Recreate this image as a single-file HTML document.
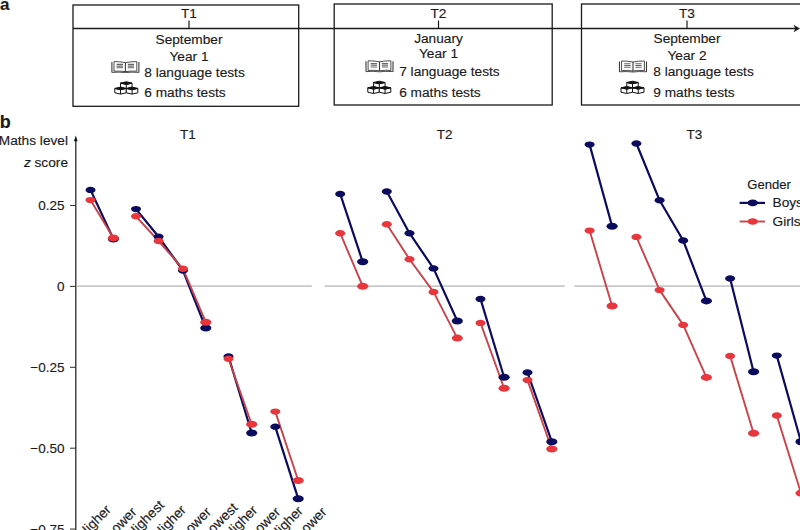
<!DOCTYPE html>
<html><head><meta charset="utf-8"><style>
html,body{margin:0;padding:0;background:#fff;width:800px;height:530px;overflow:hidden}
svg{display:block;font-family:"Liberation Sans",sans-serif}
text{stroke:#1a1a1a;stroke-width:0.15px}
</style></head><body>
<svg width="800" height="530" viewBox="0 0 800 530">
<defs>
<g id="book" fill="none" stroke="#3a3a3a" stroke-width="0.9">
  <path d="M0.5,0.8 V11.4 M27.5,0.8 V11.4" stroke-width="1.1"/>
  <path d="M2.6,0.4 V10.2 M25.4,0.4 V10.2"/>
  <path d="M2.6,0.4 Q8.5,0.3 14,1.4 Q19.5,0.3 25.4,0.4"/>
  <path d="M2.6,10 Q8.5,9.6 14,10.4 Q19.5,9.6 25.4,10"/>
  <path d="M0.5,11.2 Q8,10.6 14,11.4 Q20,10.6 27.5,11.2"/>
  <path d="M14,1.4 V10.8" stroke-width="1.1"/>
  <path d="M5.2,3.2 H11.6 M5.2,4.9 H11.6 M5.2,6.6 H11.6 M16.4,3.2 H22.6 M16.4,4.9 H22.6 M16.4,6.6 H22.6" stroke="#666" stroke-width="1.1"/>
</g>
<g id="blocks" stroke="#111" stroke-width="1" stroke-linejoin="round"><path d="M5.75,1.3 L11.5,2.6 L17.25,1.3 V5.7 L11.5,7.0 L5.75,5.7 Z" fill="#fff"/><path d="M11.5,2.6 V7.0" fill="none"/><path d="M5.75,1.3 L11.5,0 L17.25,1.3 L11.5,2.6 Z" fill="#111"/><path d="M0,6.6 L5.75,7.9 L11.5,6.6 V11.0 L5.75,12.3 L0,11.0 Z" fill="#fff"/><path d="M5.75,7.9 V12.3" fill="none"/><path d="M0,6.6 L5.75,5.3 L11.5,6.6 L5.75,7.9 Z" fill="#111"/><path d="M11.5,6.6 L17.25,7.9 L23.0,6.6 V11.0 L17.25,12.3 L11.5,11.0 Z" fill="#fff"/><path d="M17.25,7.9 V12.3" fill="none"/><path d="M11.5,6.6 L17.25,5.3 L23.0,6.6 L17.25,7.9 Z" fill="#111"/></g>
</defs>
<text x="0" y="9.6" font-size="17" font-weight="bold" fill="#1a1a1a">a</text>
<rect x="73" y="5" width="225.7" height="101.3" fill="none" stroke="#1a1a1a" stroke-width="1.3"/>
<rect x="334.2" y="4" width="218.00000000000006" height="101" fill="none" stroke="#1a1a1a" stroke-width="1.3"/>
<rect x="581.5" y="4" width="230.5" height="101" fill="none" stroke="#1a1a1a" stroke-width="1.3"/>
<line x1="73" y1="28.5" x2="796" y2="28.5" stroke="#1a1a1a" stroke-width="1.3"/>
<path d="M800,28.5 L793.5,24.8 L795.3,28.5 L793.5,32.2 Z" fill="#1a1a1a"/>
<line x1="189" y1="20.5" x2="189" y2="28.5" stroke="#1a1a1a" stroke-width="1.2"/>
<text x="189" y="17.5" font-size="13.7" text-anchor="middle" fill="#1a1a1a">T1</text>
<text x="189" y="44.2" font-size="13.7" text-anchor="middle" fill="#1a1a1a">September</text>
<text x="189" y="60.5" font-size="13.7" text-anchor="middle" fill="#1a1a1a">Year 1</text>
<text x="144.3" y="76.5" font-size="13.7" fill="#1a1a1a">8 language tests</text>
<text x="144.3" y="97.0" font-size="13.7" fill="#1a1a1a">6 maths tests</text>
<use href="#book" x="111.4" y="61.2"/>
<use href="#blocks" x="114.8" y="81.8"/>
<line x1="438.5" y1="20.5" x2="438.5" y2="28.5" stroke="#1a1a1a" stroke-width="1.2"/>
<text x="438.5" y="17.5" font-size="13.7" text-anchor="middle" fill="#1a1a1a">T2</text>
<text x="438.5" y="42.7" font-size="13.7" text-anchor="middle" fill="#1a1a1a">January</text>
<text x="438.5" y="58.2" font-size="13.7" text-anchor="middle" fill="#1a1a1a">Year 1</text>
<text x="399.2" y="75.5" font-size="13.7" fill="#1a1a1a">7 language tests</text>
<text x="399.2" y="96.9" font-size="13.7" fill="#1a1a1a">6 maths tests</text>
<use href="#book" x="365.5" y="60.4"/>
<use href="#blocks" x="367.8" y="81.2"/>
<line x1="687" y1="20.5" x2="687" y2="28.5" stroke="#1a1a1a" stroke-width="1.2"/>
<text x="687" y="17.5" font-size="13.7" text-anchor="middle" fill="#1a1a1a">T3</text>
<text x="687" y="43.4" font-size="13.7" text-anchor="middle" fill="#1a1a1a">September</text>
<text x="687" y="59.5" font-size="13.7" text-anchor="middle" fill="#1a1a1a">Year 2</text>
<text x="653.3" y="75.5" font-size="13.7" fill="#1a1a1a">8 language tests</text>
<text x="653.3" y="96.8" font-size="13.7" fill="#1a1a1a">9 maths tests</text>
<use href="#book" x="619" y="60.6"/>
<use href="#blocks" x="621" y="81.2"/>
<text x="-0.3" y="128.3" font-size="18" font-weight="bold" fill="#1a1a1a">b</text>
<text x="68" y="144.6" font-size="13.7" text-anchor="end" fill="#1a1a1a">Maths level</text>
<text x="68" y="167.1" font-size="13.7" text-anchor="end" fill="#1a1a1a"><tspan font-style="italic">z</tspan> score</text>
<line x1="75.8" y1="139" x2="75.8" y2="530" stroke="#2a2a2a" stroke-width="1.3"/>
<path d="M75.8,135.6 L74.0,141.2 L77.6,141.2 Z" fill="#111"/>
<line x1="70" y1="205.5" x2="76" y2="205.5" stroke="#333" stroke-width="1.05"/>
<text x="64.5" y="210.0" font-size="13.5" text-anchor="end" fill="#1a1a1a">0.25</text>
<line x1="70" y1="286.4" x2="76" y2="286.4" stroke="#333" stroke-width="1.05"/>
<text x="64.5" y="290.9" font-size="13.5" text-anchor="end" fill="#1a1a1a">0</text>
<line x1="70" y1="367.3" x2="76" y2="367.3" stroke="#333" stroke-width="1.05"/>
<text x="64.5" y="371.8" font-size="13.5" text-anchor="end" fill="#1a1a1a">−0.25</text>
<line x1="70" y1="448.2" x2="76" y2="448.2" stroke="#333" stroke-width="1.05"/>
<text x="64.5" y="452.7" font-size="13.5" text-anchor="end" fill="#1a1a1a">−0.50</text>
<line x1="70" y1="529.1" x2="76" y2="529.1" stroke="#333" stroke-width="1.05"/>
<text x="64.5" y="533.6" font-size="13.5" text-anchor="end" fill="#1a1a1a">−0.75</text>
<line x1="76.6" y1="286.1" x2="311.8" y2="286.1" stroke="#c8c8c8" stroke-width="1.6"/>
<line x1="324.5" y1="286.1" x2="564.8" y2="286.1" stroke="#c8c8c8" stroke-width="1.6"/>
<line x1="574.5" y1="286.1" x2="800" y2="286.1" stroke="#c8c8c8" stroke-width="1.6"/>
<text x="188" y="139.3" font-size="13.5" text-anchor="middle" fill="#1a1a1a">T1</text>
<text x="444.7" y="139.3" font-size="13.5" text-anchor="middle" fill="#1a1a1a">T2</text>
<text x="694.4" y="139.3" font-size="13.5" text-anchor="middle" fill="#1a1a1a">T3</text>
<polyline points="90.5,189.9 113.4,239" fill="none" stroke="#0b0b5e" stroke-width="2.2" stroke-linejoin="round"/>
<polyline points="136,209.1 158.6,236.8 183,270.5 205.8,328" fill="none" stroke="#0b0b5e" stroke-width="2.2" stroke-linejoin="round"/>
<polyline points="228.5,356.5 251.7,433" fill="none" stroke="#0b0b5e" stroke-width="2.2" stroke-linejoin="round"/>
<polyline points="275.3,426.8 298.2,498.7" fill="none" stroke="#0b0b5e" stroke-width="2.2" stroke-linejoin="round"/>
<polyline points="90.5,200.1 113.4,238" fill="none" stroke="#c9434b" stroke-width="1.9" stroke-linejoin="round"/>
<polyline points="136,216.3 158.6,241 183,268.8 205.8,322.2" fill="none" stroke="#c9434b" stroke-width="1.9" stroke-linejoin="round"/>
<polyline points="228.5,358.8 251.7,424.2" fill="none" stroke="#c9434b" stroke-width="1.9" stroke-linejoin="round"/>
<polyline points="275.3,411.6 298.2,480.5" fill="none" stroke="#c9434b" stroke-width="1.9" stroke-linejoin="round"/>
<ellipse cx="90.5" cy="189.9" rx="5.0" ry="3.2" fill="#0b0b5e"/>
<ellipse cx="113.4" cy="239" rx="5.6" ry="3.5" fill="#0b0b5e"/>
<ellipse cx="136" cy="209.1" rx="5.0" ry="3.2" fill="#0b0b5e"/>
<ellipse cx="158.6" cy="236.8" rx="5.0" ry="3.2" fill="#0b0b5e"/>
<ellipse cx="183" cy="270.5" rx="5.0" ry="3.2" fill="#0b0b5e"/>
<ellipse cx="205.8" cy="328" rx="5.6" ry="3.5" fill="#0b0b5e"/>
<ellipse cx="228.5" cy="356.5" rx="5.0" ry="3.2" fill="#0b0b5e"/>
<ellipse cx="251.7" cy="433" rx="5.6" ry="3.5" fill="#0b0b5e"/>
<ellipse cx="275.3" cy="426.8" rx="5.0" ry="3.2" fill="#0b0b5e"/>
<ellipse cx="298.2" cy="498.7" rx="5.6" ry="3.5" fill="#0b0b5e"/>
<ellipse cx="90.5" cy="200.1" rx="5.0" ry="3.2" fill="#e8363d"/>
<ellipse cx="113.4" cy="238" rx="5.6" ry="3.5" fill="#e8363d"/>
<ellipse cx="136" cy="216.3" rx="5.0" ry="3.2" fill="#e8363d"/>
<ellipse cx="158.6" cy="241" rx="5.0" ry="3.2" fill="#e8363d"/>
<ellipse cx="183" cy="268.8" rx="5.0" ry="3.2" fill="#e8363d"/>
<ellipse cx="205.8" cy="322.2" rx="5.6" ry="3.5" fill="#e8363d"/>
<ellipse cx="228.5" cy="358.8" rx="5.0" ry="3.2" fill="#e8363d"/>
<ellipse cx="251.7" cy="424.2" rx="5.6" ry="3.5" fill="#e8363d"/>
<ellipse cx="275.3" cy="411.6" rx="5.0" ry="3.2" fill="#e8363d"/>
<ellipse cx="298.2" cy="480.5" rx="5.6" ry="3.5" fill="#e8363d"/>
<polyline points="340.2,193.9 362.7,261.8" fill="none" stroke="#0b0b5e" stroke-width="2.2" stroke-linejoin="round"/>
<polyline points="386.8,191.5 409.5,233.2 433.5,268.4 457.3,321" fill="none" stroke="#0b0b5e" stroke-width="2.2" stroke-linejoin="round"/>
<polyline points="480.5,298.9 504.1,377.3" fill="none" stroke="#0b0b5e" stroke-width="2.2" stroke-linejoin="round"/>
<polyline points="527.5,372.5 551.8,441.7" fill="none" stroke="#0b0b5e" stroke-width="2.2" stroke-linejoin="round"/>
<polyline points="340.2,233.2 362.7,286.2" fill="none" stroke="#c9434b" stroke-width="1.9" stroke-linejoin="round"/>
<polyline points="386.8,224.3 409.5,259.2 433.5,291.9 457.3,338.1" fill="none" stroke="#c9434b" stroke-width="1.9" stroke-linejoin="round"/>
<polyline points="480.5,322.9 504.1,388.3" fill="none" stroke="#c9434b" stroke-width="1.9" stroke-linejoin="round"/>
<polyline points="527.5,380.1 551.8,449" fill="none" stroke="#c9434b" stroke-width="1.9" stroke-linejoin="round"/>
<ellipse cx="340.2" cy="193.9" rx="5.0" ry="3.2" fill="#0b0b5e"/>
<ellipse cx="362.7" cy="261.8" rx="5.6" ry="3.5" fill="#0b0b5e"/>
<ellipse cx="386.8" cy="191.5" rx="5.0" ry="3.2" fill="#0b0b5e"/>
<ellipse cx="409.5" cy="233.2" rx="5.0" ry="3.2" fill="#0b0b5e"/>
<ellipse cx="433.5" cy="268.4" rx="5.0" ry="3.2" fill="#0b0b5e"/>
<ellipse cx="457.3" cy="321" rx="5.6" ry="3.5" fill="#0b0b5e"/>
<ellipse cx="480.5" cy="298.9" rx="5.0" ry="3.2" fill="#0b0b5e"/>
<ellipse cx="504.1" cy="377.3" rx="5.6" ry="3.5" fill="#0b0b5e"/>
<ellipse cx="527.5" cy="372.5" rx="5.0" ry="3.2" fill="#0b0b5e"/>
<ellipse cx="551.8" cy="441.7" rx="5.6" ry="3.5" fill="#0b0b5e"/>
<ellipse cx="340.2" cy="233.2" rx="5.0" ry="3.2" fill="#e8363d"/>
<ellipse cx="362.7" cy="286.2" rx="5.6" ry="3.5" fill="#e8363d"/>
<ellipse cx="386.8" cy="224.3" rx="5.0" ry="3.2" fill="#e8363d"/>
<ellipse cx="409.5" cy="259.2" rx="5.0" ry="3.2" fill="#e8363d"/>
<ellipse cx="433.5" cy="291.9" rx="5.0" ry="3.2" fill="#e8363d"/>
<ellipse cx="457.3" cy="338.1" rx="5.6" ry="3.5" fill="#e8363d"/>
<ellipse cx="480.5" cy="322.9" rx="5.0" ry="3.2" fill="#e8363d"/>
<ellipse cx="504.1" cy="388.3" rx="5.6" ry="3.5" fill="#e8363d"/>
<ellipse cx="527.5" cy="380.1" rx="5.0" ry="3.2" fill="#e8363d"/>
<ellipse cx="551.8" cy="449" rx="5.6" ry="3.5" fill="#e8363d"/>
<polyline points="589.6,144.6 612.1,226.3" fill="none" stroke="#0b0b5e" stroke-width="2.2" stroke-linejoin="round"/>
<polyline points="636.4,143.5 659.6,200.3 683.2,240.5 706.4,300.9" fill="none" stroke="#0b0b5e" stroke-width="2.2" stroke-linejoin="round"/>
<polyline points="730.1,278.5 753.6,371.7" fill="none" stroke="#0b0b5e" stroke-width="2.2" stroke-linejoin="round"/>
<polyline points="776.8,355.6 801,441.8" fill="none" stroke="#0b0b5e" stroke-width="2.2" stroke-linejoin="round"/>
<polyline points="589.6,230.6 612.1,306" fill="none" stroke="#c9434b" stroke-width="1.9" stroke-linejoin="round"/>
<polyline points="636.4,236.9 659.6,290.1 683.2,324.9 706.4,377.4" fill="none" stroke="#c9434b" stroke-width="1.9" stroke-linejoin="round"/>
<polyline points="730.1,355.9 753.6,433.3" fill="none" stroke="#c9434b" stroke-width="1.9" stroke-linejoin="round"/>
<polyline points="776.8,415.5 801,493.1" fill="none" stroke="#c9434b" stroke-width="1.9" stroke-linejoin="round"/>
<ellipse cx="589.6" cy="144.6" rx="5.0" ry="3.2" fill="#0b0b5e"/>
<ellipse cx="612.1" cy="226.3" rx="5.6" ry="3.5" fill="#0b0b5e"/>
<ellipse cx="636.4" cy="143.5" rx="5.0" ry="3.2" fill="#0b0b5e"/>
<ellipse cx="659.6" cy="200.3" rx="5.0" ry="3.2" fill="#0b0b5e"/>
<ellipse cx="683.2" cy="240.5" rx="5.0" ry="3.2" fill="#0b0b5e"/>
<ellipse cx="706.4" cy="300.9" rx="5.6" ry="3.5" fill="#0b0b5e"/>
<ellipse cx="730.1" cy="278.5" rx="5.0" ry="3.2" fill="#0b0b5e"/>
<ellipse cx="753.6" cy="371.7" rx="5.6" ry="3.5" fill="#0b0b5e"/>
<ellipse cx="776.8" cy="355.6" rx="5.0" ry="3.2" fill="#0b0b5e"/>
<ellipse cx="801" cy="441.8" rx="5.6" ry="3.5" fill="#0b0b5e"/>
<ellipse cx="589.6" cy="230.6" rx="5.0" ry="3.2" fill="#e8363d"/>
<ellipse cx="612.1" cy="306" rx="5.6" ry="3.5" fill="#e8363d"/>
<ellipse cx="636.4" cy="236.9" rx="5.0" ry="3.2" fill="#e8363d"/>
<ellipse cx="659.6" cy="290.1" rx="5.0" ry="3.2" fill="#e8363d"/>
<ellipse cx="683.2" cy="324.9" rx="5.0" ry="3.2" fill="#e8363d"/>
<ellipse cx="706.4" cy="377.4" rx="5.6" ry="3.5" fill="#e8363d"/>
<ellipse cx="730.1" cy="355.9" rx="5.0" ry="3.2" fill="#e8363d"/>
<ellipse cx="753.6" cy="433.3" rx="5.6" ry="3.5" fill="#e8363d"/>
<ellipse cx="776.8" cy="415.5" rx="5.0" ry="3.2" fill="#e8363d"/>
<ellipse cx="801" cy="493.1" rx="5.6" ry="3.5" fill="#e8363d"/>
<text x="0" y="0" font-size="13.7" text-anchor="middle" fill="#1a1a1a" transform="translate(97.5,524.8) rotate(-45)">Higher</text>
<text x="0" y="0" font-size="13.7" text-anchor="middle" fill="#1a1a1a" transform="translate(124.3,526) rotate(-45)">Lower</text>
<text x="0" y="0" font-size="13.7" text-anchor="middle" fill="#1a1a1a" transform="translate(148.5,522.5) rotate(-45)">Highest</text>
<text x="0" y="0" font-size="13.7" text-anchor="middle" fill="#1a1a1a" transform="translate(172.5,525) rotate(-45)">Higher</text>
<text x="0" y="0" font-size="13.7" text-anchor="middle" fill="#1a1a1a" transform="translate(198.7,526) rotate(-45)">Lower</text>
<text x="0" y="0" font-size="13.7" text-anchor="middle" fill="#1a1a1a" transform="translate(223.1,524) rotate(-45)">Lowest</text>
<text x="0" y="0" font-size="13.7" text-anchor="middle" fill="#1a1a1a" transform="translate(243.9,525.2) rotate(-45)">Higher</text>
<text x="0" y="0" font-size="13.7" text-anchor="middle" fill="#1a1a1a" transform="translate(268.0,526) rotate(-45)">Lower</text>
<text x="0" y="0" font-size="13.7" text-anchor="middle" fill="#1a1a1a" transform="translate(289.5,526) rotate(-45)">Higher</text>
<text x="0" y="0" font-size="13.7" text-anchor="middle" fill="#1a1a1a" transform="translate(314.3,526) rotate(-45)">Lower</text>
<text x="747.3" y="189" font-size="13.1" fill="#1a1a1a">Gender</text>
<line x1="739.6" y1="202.9" x2="765" y2="202.9" stroke="#0b0b5e" stroke-width="2.2"/>
<ellipse cx="752.7" cy="202.9" rx="5.2" ry="3.3" fill="#0b0b5e"/>
<text x="772.5" y="207.4" font-size="13.7" fill="#1a1a1a">Boys</text>
<line x1="739.6" y1="221.5" x2="765" y2="221.5" stroke="#c9434b" stroke-width="1.9"/>
<ellipse cx="752.7" cy="221.5" rx="5.2" ry="3.3" fill="#e8363d"/>
<text x="772.5" y="225.8" font-size="13.7" fill="#1a1a1a">Girls</text>
</svg>
</body></html>
